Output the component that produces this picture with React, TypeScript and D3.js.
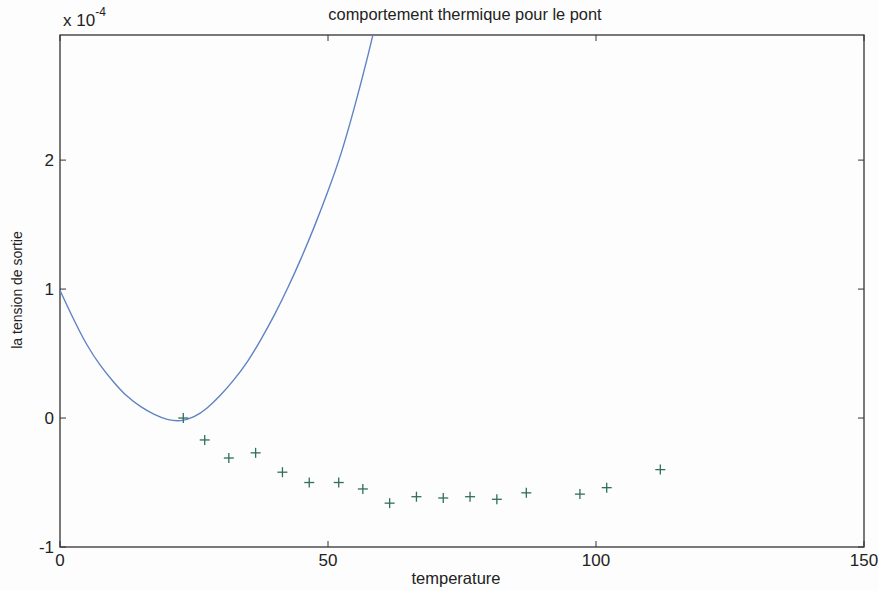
import React from "react";
import * as d3 from "d3";

const title = "comportement thermique pour le pont";
const xLabel = "temperature";
const yLabel = "la tension de sortie";

const xTicks = [0, 50, 100, 150];
const yTicks = [-1, 0, 1, 2];

// measured points (+ markers), values in units of 1e-4
const measX = [23, 27, 31.5, 36.5, 41.5, 46.5, 52, 56.5, 61.5, 66.5, 71.5, 76.5, 81.5, 87, 97, 102, 112];
const measY = [0.0, -0.17, -0.31, -0.27, -0.42, -0.5, -0.5, -0.55, -0.66, -0.61, -0.62, -0.61, -0.63, -0.58, -0.59, -0.54, -0.4];

// fitted curve
const curveX = [0, 2.5, 5, 7.5, 10, 12.5, 15, 17.5, 20, 22.5, 25, 27.5, 30, 32.5, 35, 37.5, 40, 42.5, 45, 47.5, 50, 52.5, 55, 57.5, 60];
const curveY = [0.99, 0.77, 0.57, 0.41, 0.28, 0.17, 0.09, 0.03, -0.01, -0.02, 0.01, 0.08, 0.18, 0.3, 0.44, 0.61, 0.8, 1.01, 1.24, 1.49, 1.76, 2.06, 2.42, 2.82, 3.25];

const W = 879;
const H = 591;
const L = 60, R = 864, T = 35, B = 547;

export default function App() {
  const x = d3.scaleLinear().domain([0, 150]).range([L, R]);
  const y = d3.scaleLinear().domain([-1, 2.97]).range([B, T]);

  const line = d3
    .line<number>()
    .x((_, i) => x(curveX[i]))
    .y((d) => y(d))
    .curve(d3.curveNatural);

  const font = "'Liberation Sans', Arial, Helvetica, sans-serif";
  const axisColor = "#333";
  const tl = 6;

  return (
    <svg
      width={W}
      height={H}
      style={{ position: "fixed", left: 0, top: 0, background: "#fff" }}
      fontFamily={font}
    >
      <defs>
        <clipPath id="plotClip">
          <rect x={L} y={T} width={R - L} height={B - T} />
        </clipPath>
      </defs>
      <rect x={0} y={0} width={W} height={H} fill="#fdfdfd" />

      {/* title */}
      <text x={465} y={20} textAnchor="middle" fontSize={16.4} fill="#222">
        {title}
      </text>

      {/* exponent */}
      <text x={63} y={26} fontSize={17} fill="#222">
        x 10
        <tspan dy={-10} fontSize={12}>-4</tspan>
      </text>

      {/* frame */}
      <rect x={L} y={T} width={R - L} height={B - T} fill="none" stroke={axisColor} strokeWidth={1.3} />

      {/* x ticks */}
      {xTicks.map((t) => (
        <g key={"xt" + t}>
          <line x1={x(t)} x2={x(t)} y1={B} y2={B - tl} stroke={axisColor} />
          <line x1={x(t)} x2={x(t)} y1={T} y2={T + tl} stroke={axisColor} />
          <text x={x(t)} y={B + 19} textAnchor="middle" fontSize={17} fill="#222">
            {t}
          </text>
        </g>
      ))}

      {/* y ticks */}
      {yTicks.map((t) => (
        <g key={"yt" + t}>
          <line x1={L} x2={L + tl} y1={y(t)} y2={y(t)} stroke={axisColor} />
          <line x1={R} x2={R - tl} y1={y(t)} y2={y(t)} stroke={axisColor} />
          <text x={L - 6} y={y(t) + 6} textAnchor="end" fontSize={17} fill="#222">
            {t}
          </text>
        </g>
      ))}

      {/* axis labels */}
      <text x={456} y={584} textAnchor="middle" fontSize={16.5} fill="#222">
        {xLabel}
      </text>
      <text
        transform={`translate(22, ${290}) rotate(-90)`}
        textAnchor="middle"
        fontSize={14}
        fill="#222"
      >
        {yLabel}
      </text>

      {/* curve */}
      <g clipPath="url(#plotClip)">
        <path d={line(curveY) || ""} fill="none" stroke="#5f83c4" strokeWidth={1.4} />
      </g>

      {/* markers */}
      {measX.map((mx, i) => {
        const cx = x(mx);
        const cy = y(measY[i]);
        const s = 5;
        return (
          <g key={"m" + i} stroke="#2f6f5e" strokeWidth={1.3}>
            <line x1={cx - s} x2={cx + s} y1={cy} y2={cy} />
            <line x1={cx} x2={cx} y1={cy - s} y2={cy + s} />
          </g>
        );
      })}
    </svg>
  );
}
